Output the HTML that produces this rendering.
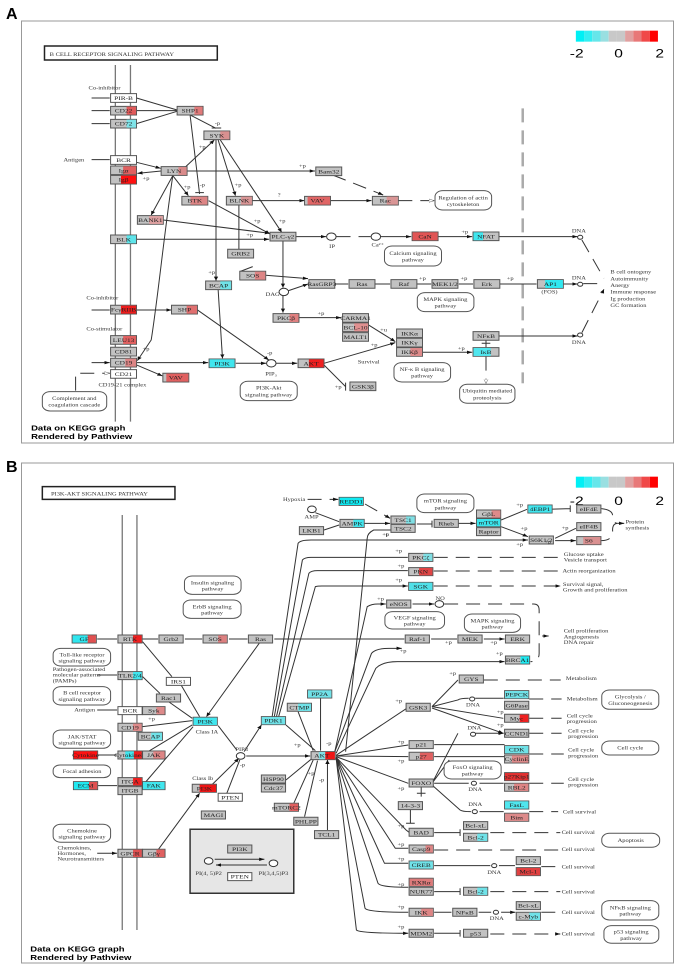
<!DOCTYPE html>
<html><head><meta charset="utf-8">
<style>
html,body{margin:0;padding:0;background:#fff;}
svg{display:block;}
.g{fill:#c2c2c2;stroke:#555;stroke-width:1;vector-effect:non-scaling-stroke}
.w{fill:#fff;stroke:#555;stroke-width:1;vector-effect:non-scaling-stroke}
.t{font-family:"Liberation Serif",serif;font-size:17px;fill:#222;text-anchor:middle}
.l{font-family:"Liberation Serif",serif;font-size:15px;fill:#333}
.lc{font-family:"Liberation Serif",serif;font-size:15px;fill:#333;text-anchor:middle}
.pw{fill:#fff;stroke:#555;stroke-width:1;vector-effect:non-scaling-stroke}
.e{stroke:#333;stroke-width:1;fill:none;vector-effect:non-scaling-stroke}
.d{stroke:#333;stroke-width:1;fill:none;stroke-dasharray:14 8;vector-effect:non-scaling-stroke}
.m{stroke:#777;stroke-width:1.3;fill:none;vector-effect:non-scaling-stroke}
.ci{fill:#fff;stroke:#333;stroke-width:1;vector-effect:non-scaling-stroke}
</style></head>
<body>
<svg width="675" height="966" viewBox="0 0 675 966" xmlns="http://www.w3.org/2000/svg">
<defs>
<marker id="a" markerUnits="userSpaceOnUse" markerWidth="14" markerHeight="14" refX="12" refY="7" orient="auto"><path d="M0,2 L12,7 L0,12 z" fill="#111"/></marker>
<marker id="o" markerUnits="userSpaceOnUse" markerWidth="14" markerHeight="14" refX="12" refY="7" orient="auto"><path d="M0,2 L12,7 L0,12 z" fill="#fff" stroke="#333"/></marker>
</defs>
<text x="6" y="19" font-family="Liberation Sans,sans-serif" font-weight="bold" font-size="16">A</text>
<rect x="21.5" y="21" width="652" height="422" fill="none" stroke="#999" stroke-width="1"/>
<text x="6" y="472" font-family="Liberation Sans,sans-serif" font-weight="bold" font-size="16">B</text>
<rect x="21.5" y="463" width="652" height="500" fill="none" stroke="#999" stroke-width="1"/>

<g transform="scale(0.432,0.3333)">
<!-- title -->
<rect x="103" y="138" width="400" height="42" fill="#fff" stroke="#222" stroke-width="1.5" vector-effect="non-scaling-stroke"/>
<text x="115" y="168" class="l" font-size="20">B CELL RECEPTOR SIGNALING PATHWAY</text>
<!-- colorbar -->
<g>
<rect x="1333" y="92" width="19" height="33" fill="#00f0f5"/><rect x="1352" y="92" width="19" height="33" fill="#33eef2"/><rect x="1371" y="92" width="19" height="33" fill="#66e6ea"/><rect x="1390" y="92" width="19" height="33" fill="#99dfe1"/><rect x="1409" y="92" width="19" height="33" fill="#c8c8c8"/><rect x="1428" y="92" width="19" height="33" fill="#c8c8c8"/><rect x="1447" y="92" width="19" height="33" fill="#e0a0a0"/><rect x="1466" y="92" width="19" height="33" fill="#e87878"/><rect x="1485" y="92" width="19" height="33" fill="#f04848"/><rect x="1504" y="92" width="19" height="33" fill="#ff0000"/>
<text x="1335" y="172" font-family="Liberation Sans,sans-serif" font-size="36" text-anchor="middle">-2</text><text x="1432" y="172" font-family="Liberation Sans,sans-serif" font-size="36" text-anchor="middle">0</text><text x="1527" y="172" font-family="Liberation Sans,sans-serif" font-size="36" text-anchor="middle">2</text>
</g>
<line x1="267" y1="195" x2="267" y2="1265" class="m"/><line x1="302" y1="195" x2="302" y2="1265" class="m"/>
<line x1="1210" y1="325" x2="1210" y2="1150" stroke="#aaa" stroke-width="2.5" stroke-dasharray="14 8" vector-effect="non-scaling-stroke"/>

<!-- edges A -->
<path class="e" marker-end="url(#a)" d="M212,294H254M212,332H254M212,371H254M212,479H254M212,930H254M212,1088H254"/>
<path class="e" d="M316,294L410,330M316,332H410M316,371L410,334"/>
<path class="e" d="M440,345L462,582M452,578H472M440,345L500,385M490,384H512"/>
<path class="e" marker-end="url(#a)" d="M316,487L372,505"/>
<path class="e" marker-end="url(#a)" d="M373,513L318,520"/>
<path class="e" marker-end="url(#a)" d="M433,513H729"/>
<path class="e" marker-end="url(#a)" d="M430,500L496,420"/>
<path class="e" marker-end="url(#a)" d="M400,527L436,587"/>
<path class="e" marker-end="url(#a)" d="M400,527L350,645"/>
<path class="e" marker-end="url(#a)" d="M400,527C380,700 365,900 350,1020 L318,1082"/>
<path class="e" marker-end="url(#a)" d="M505,420L545,587"/>
<path class="e" marker-end="url(#a)" d="M500,420V842"/>
<path class="e" marker-end="url(#a)" d="M510,420L652,697"/>
<path class="e" marker-end="url(#a)" d="M483,602L625,702"/>
<path class="e" marker-end="url(#a)" d="M378,660L625,700"/>
<path class="e" marker-end="url(#a)" d="M583,602H705"/>
<path class="e" marker-end="url(#a)" d="M765,602H860"/>
<path class="d" marker-end="url(#o)" d="M922,602H1005"/>
<path class="d" marker-end="url(#a)" d="M770,525L887,585"/>
<path class="e" d="M553,615V748M585,800L555,815"/>
<path class="e" marker-end="url(#a)" d="M615,826L713,836"/>
<path class="e" marker-end="url(#a)" d="M316,718H623"/>
<path class="e" marker-end="url(#a)" d="M685,710H755"/>
<path class="d" d="M779,710H858"/>
<path class="e" marker-end="url(#a)" d="M882,710H952"/>
<path class="e" marker-end="url(#a)" d="M1014,710H1093"/>
<path class="e" marker-end="url(#a)" d="M1155,710H1337"/>
<path class="e" marker-end="url(#a)" d="M655,722V863"/>
<path class="e" marker-end="url(#a)" d="M655,888V938"/>
<path class="e" marker-end="url(#a)" d="M668,872L713,852"/>
<path class="e" marker-end="url(#a)" d="M775,852H806M868,852H903M965,852H998M1062,852H1095M1157,852H1242M1304,852H1337"/>
<path class="d" marker-end="url(#a)" d="M1347,720L1398,835M1350,851H1398M1347,998L1398,868"/>
<path class="e" marker-end="url(#a)" d="M316,930H397"/>
<path class="e" marker-end="url(#a)" d="M457,930L622,1080"/>
<path class="e" marker-end="url(#a)" d="M505,870L515,1075"/>
<path class="e" marker-end="url(#a)" d="M316,1088H482"/>
<path class="e" marker-end="url(#a)" d="M546,1090H616"/>
<path class="e" marker-end="url(#a)" d="M640,1090H688"/>
<path class="e" marker-end="url(#a)" d="M750,1090L915,1028"/>
<path class="e" d="M750,1095L800,1160M800,1148V1172"/>
<path class="e" marker-end="url(#a)" d="M692,953H790"/>
<path class="e" marker-end="url(#a)" d="M853,975L915,1025"/>
<path class="e" marker-end="url(#a)" d="M978,1057H1093"/>
<path class="e" marker-end="url(#a)" d="M1155,1008H1337"/>
<path class="e" d="M1125,1020V1042M1115,1030H1135"/>
<path class="d" marker-end="url(#o)" d="M1125,1070V1150"/>
<path class="e" marker-end="url(#a)" d="M316,1095L376,1128"/>
<path class="d" marker-end="url(#o)" d="M175,1172V1120H254"/>

<!-- circles -->
<circle cx="767" cy="710" r="11" class="ci"/><circle cx="870" cy="710" r="11" class="ci"/><circle cx="657" cy="876" r="11" class="ci"/><circle cx="628" cy="1090" r="11" class="ci"/>
<circle cx="1343" cy="712" r="6" class="ci"/><circle cx="1343" cy="853" r="6" class="ci"/><circle cx="1343" cy="1005" r="6" class="ci"/>

<!-- nodes A -->
<rect class="w" x="256" y="281" width="60" height="26"/><text class="t" x="286" y="300">PIR-B</text>
<rect class="g" x="256" y="319" width="60" height="26"/><rect x="293" y="320" width="22" height="24" fill="#e05a5a"/><text class="t" x="286" y="338">CD22</text>
<rect class="g" x="256" y="358" width="60" height="26"/><rect x="293" y="359" width="22" height="24" fill="#7fe3e8"/><text class="t" x="286" y="377">CD72</text>
<rect class="g" x="410" y="319" width="60" height="26"/><rect x="450" y="320" width="19" height="24" fill="#e07a7a"/><text class="t" x="440" y="338">SHP1</text>
<rect class="g" x="472" y="393" width="60" height="26"/><rect x="510" y="394" width="21" height="24" fill="#d99090"/><text class="t" x="502" y="412">SYK</text>
<rect class="w" x="256" y="467" width="60" height="26"/><text class="t" x="286" y="486">BCR</text>
<rect class="g" x="256" y="498" width="60" height="26"/><rect x="285" y="499" width="30" height="24" fill="#e06060"/><text class="t" x="286" y="517">Igα</text>
<rect class="g" x="256" y="526" width="60" height="26"/><rect x="280" y="527" width="35" height="24" fill="#ff1010"/><text class="t" x="286" y="545">Igβ</text>
<rect class="g" x="373" y="500" width="60" height="26"/><rect x="413" y="501" width="19" height="24" fill="#d98a8a"/><text class="t" x="403" y="519">LYN</text>
<rect class="g" x="731" y="501" width="60" height="26"/><text class="t" x="761" y="520">Bam32</text>
<rect class="g" x="421" y="589" width="60" height="26"/><rect x="441" y="590" width="39" height="24" fill="#dd8585"/><text class="t" x="451" y="608">BTK</text>
<rect class="g" x="524" y="589" width="60" height="26"/><rect x="558" y="590" width="25" height="24" fill="#d99595"/><text class="t" x="554" y="608">BLNK</text>
<rect class="g" x="705" y="589" width="60" height="26"/><rect x="712" y="590" width="52" height="24" fill="#e06565"/><text class="t" x="735" y="608">VAV</text>
<rect class="g" x="862" y="589" width="60" height="26"/><rect x="895" y="590" width="26" height="24" fill="#d99595"/><text class="t" x="892" y="608">Rac</text>
<rect class="g" x="318" y="647" width="60" height="26"/><rect x="345" y="648" width="32" height="24" fill="#dca0a0"/><text class="t" x="348" y="666">BANK1</text>
<rect class="g" x="256" y="705" width="60" height="26"/><rect x="293" y="706" width="22" height="24" fill="#5ee4ea"/><text class="t" x="286" y="724">BLK</text>
<rect class="g" x="625" y="697" width="60" height="26"/><text class="t" x="655" y="716">PLC-γ2</text>
<rect class="g" x="954" y="696" width="60" height="26"/><rect x="955" y="697" width="58" height="24" fill="#e05555"/><text class="t" x="984" y="715">CaN</text>
<rect class="g" x="1095" y="696" width="60" height="26"/><rect x="1096" y="697" width="22" height="24" fill="#40e6ee"/><text class="t" x="1125" y="715">NFAT</text>
<rect class="g" x="527" y="748" width="60" height="26"/><text class="t" x="557" y="767">GRB2</text>
<rect class="g" x="555" y="814" width="60" height="26"/><rect x="590" y="815" width="24" height="24" fill="#dd8585"/><text class="t" x="585" y="833">SOS</text>
<rect class="g" x="476" y="843" width="60" height="26"/><rect x="510" y="844" width="25" height="24" fill="#70e2e8"/><text class="t" x="506" y="862">BCAP</text>
<rect class="g" x="715" y="839" width="60" height="26"/><text class="t" x="745" y="858" font-size="15">RasGRP3</text>
<rect class="g" x="808" y="839" width="60" height="26"/><text class="t" x="838" y="858">Ras</text>
<rect class="g" x="905" y="839" width="60" height="26"/><text class="t" x="935" y="858">Raf</text>
<rect class="g" x="1000" y="839" width="60" height="26"/><text class="t" x="1030" y="858">MEK1/2</text>
<rect class="g" x="1097" y="839" width="60" height="26"/><text class="t" x="1127" y="858">Erk</text>
<rect class="g" x="1244" y="839" width="60" height="26"/><rect x="1262" y="840" width="41" height="24" fill="#30e8f0"/><text class="t" x="1274" y="858">AP1</text>
<text class="lc" x="1272" y="880">(FOS)</text>
<rect class="g" x="256" y="916" width="60" height="26"/><rect x="280" y="917" width="35" height="24" fill="#ee1c1c"/><text class="t" x="286" y="935" font-size="15">FcγRIIB</text>
<rect class="g" x="397" y="916" width="60" height="26"/><rect x="432" y="917" width="24" height="24" fill="#e07070"/><text class="t" x="427" y="935">SHP</text>
<rect class="g" x="632" y="941" width="60" height="26"/><rect x="670" y="942" width="21" height="24" fill="#e08080"/><text class="t" x="662" y="960">PKCβ</text>
<rect class="g" x="793" y="941" width="60" height="26"/><text class="t" x="823" y="960" font-size="15">CARMA1</text>
<rect class="g" x="793" y="969" width="60" height="26"/><rect x="820" y="970" width="32" height="24" fill="#e09090"/><text class="t" x="823" y="988">BCL-10</text>
<rect class="g" x="793" y="998" width="60" height="26"/><text class="t" x="823" y="1017">MALT1</text>
<rect class="g" x="918" y="987" width="60" height="26"/><text class="t" x="948" y="1006">IKKα</text>
<rect class="g" x="918" y="1015" width="60" height="26"/><text class="t" x="948" y="1034">IKKγ</text>
<rect class="g" x="918" y="1043" width="60" height="26"/><rect x="950" y="1044" width="27" height="24" fill="#dd8a8a"/><text class="t" x="948" y="1062">IKKβ</text>
<rect class="g" x="1095" y="995" width="60" height="26"/><text class="t" x="1125" y="1014">NFκB</text>
<rect class="g" x="1095" y="1043" width="60" height="26"/><rect x="1096" y="1044" width="40" height="24" fill="#50e6ee"/><text class="t" x="1125" y="1062">IκB</text>
<rect class="g" x="256" y="1007" width="60" height="26"/><rect x="285" y="1008" width="30" height="24" fill="#e06060"/><text class="t" x="286" y="1026">LEU13</text>
<rect class="g" x="256" y="1042" width="60" height="26"/><text class="t" x="286" y="1061">CD81</text>
<rect class="g" x="256" y="1075" width="60" height="26"/><rect x="290" y="1076" width="25" height="24" fill="#dd8585"/><text class="t" x="286" y="1094">CD19</text>
<rect class="w" x="256" y="1109" width="60" height="26"/><text class="t" x="286" y="1128">CD21</text>
<rect class="g" x="377" y="1120" width="60" height="26"/><rect x="385" y="1121" width="51" height="24" fill="#e06060"/><text class="t" x="407" y="1139">VAV</text>
<rect class="g" x="484" y="1077" width="60" height="26"/><rect x="485" y="1078" width="58" height="24" fill="#40e6ee"/><text class="t" x="514" y="1096">PI3K</text>
<rect class="g" x="690" y="1077" width="60" height="26"/><rect x="715" y="1078" width="34" height="24" fill="#ee2020"/><text class="t" x="720" y="1096">AKT</text>
<rect class="g" x="810" y="1146" width="60" height="26"/><text class="t" x="840" y="1165">GSK3β</text>

<!-- pathway boxes -->
<rect class="pw" x="1007" y="572" width="131" height="58" rx="18"/><text class="lc" x="1072" y="598">Regulation of actin</text><text class="lc" x="1072" y="618">cytoskeleton</text>
<rect class="pw" x="890" y="738" width="132" height="60" rx="18"/><text class="lc" x="956" y="765">Calcium signaling</text><text class="lc" x="956" y="785">pathway</text>
<rect class="pw" x="966" y="878" width="131" height="57" rx="18"/><text class="lc" x="1031" y="903">MAPK signaling</text><text class="lc" x="1031" y="923">pathway</text>
<rect class="pw" x="912" y="1088" width="131" height="58" rx="18"/><text class="lc" x="977" y="1113">NF-κ B signaling</text><text class="lc" x="977" y="1133">pathway</text>
<rect class="pw" x="556" y="1144" width="132" height="58" rx="18"/><text class="lc" x="622" y="1169">PI3K-Akt</text><text class="lc" x="622" y="1189">signaling pathway</text>
<rect class="pw" x="1064" y="1153" width="128" height="57" rx="18"/><text class="lc" x="1128" y="1178">Ubiquitin mediated</text><text class="lc" x="1128" y="1198">proteolysis</text>
<rect class="pw" x="98" y="1175" width="149" height="58" rx="18"/><text class="lc" x="172" y="1200">Complement and</text><text class="lc" x="172" y="1220">coagulation cascade</text>

<!-- labels A -->
<text class="l" x="205" y="268">Co-inhibitor</text>
<text class="l" x="147" y="485">Antigen</text>
<text class="l" x="200" y="898">Co-inhibitor</text>
<text class="l" x="200" y="991">Co-stimulator</text>
<text class="l" x="228" y="1159">CD19-21 complex</text>
<text class="l" x="828" y="1090">Survival</text>
<text class="l" x="762" y="744">IP</text><text class="l" x="860" y="740">Ca²⁺</text><text class="l" x="615" y="888">DAG</text><text class="l" x="614" y="1126">PIP₃</text>
<text class="lc" x="1340" y="697">DNA</text><text class="lc" x="1340" y="838">DNA</text><text class="lc" x="1340" y="1032">DNA</text>
<text class="l" x="1413" y="821">B cell ontogeny</text><text class="l" x="1413" y="841">Autoimmunity</text><text class="l" x="1413" y="861">Anergy</text><text class="l" x="1413" y="881">Immune response</text><text class="l" x="1413" y="901">Ig production</text><text class="l" x="1413" y="921">GC formation</text>
<text class="l" x="692" y="502">+p</text><text class="l" x="460" y="445">+p</text><text class="l" x="330" y="540">+p</text><text class="l" x="497" y="375">-p</text><text class="l" x="425" y="565">+p</text><text class="l" x="462" y="560">-p</text><text class="l" x="543" y="560">+p</text><text class="l" x="643" y="590">?</text><text class="l" x="587" y="668">+p</text><text class="l" x="645" y="668">+p</text><text class="l" x="570" y="710">+p</text><text class="l" x="1068" y="700">+p</text><text class="l" x="482" y="822">+p</text><text class="l" x="970" y="840">+p</text><text class="l" x="1066" y="840">+p</text><text class="l" x="1173" y="840">+p</text><text class="l" x="735" y="945">+p</text><text class="l" x="880" y="995">+u</text><text class="l" x="858" y="1040">+p</text><text class="l" x="1060" y="1050">+p</text><text class="l" x="330" y="1052">+p</text><text class="l" x="618" y="1064">-p</text><text class="l" x="775" y="1165">+p</text>
<text x="72" y="1292" font-family="Liberation Sans,sans-serif" font-weight="bold" font-size="22">Data on KEGG graph</text>
<text x="72" y="1317" font-family="Liberation Sans,sans-serif" font-weight="bold" font-size="22">Rendered by Pathview</text>
</g>

<!-- PANEL B -->
<g transform="translate(0,480) scale(0.432,0.3333)">
<rect x="98" y="20" width="307" height="38" fill="#fff" stroke="#222" stroke-width="1.5" vector-effect="non-scaling-stroke"/>
<text x="118" y="46" class="l" font-size="19">PI3K-AKT SIGNALING PATHWAY</text>
<g>
<rect x="1333" y="-10" width="19" height="33" fill="#00f0f5"/><rect x="1352" y="-10" width="19" height="33" fill="#33eef2"/><rect x="1371" y="-10" width="19" height="33" fill="#66e6ea"/><rect x="1390" y="-10" width="19" height="33" fill="#99dfe1"/><rect x="1409" y="-10" width="19" height="33" fill="#c8c8c8"/><rect x="1428" y="-10" width="19" height="33" fill="#c8c8c8"/><rect x="1447" y="-10" width="19" height="33" fill="#e0a0a0"/><rect x="1466" y="-10" width="19" height="33" fill="#e87878"/><rect x="1485" y="-10" width="19" height="33" fill="#f04848"/><rect x="1504" y="-10" width="19" height="33" fill="#ff0000"/>
<text x="1335" y="75" font-family="Liberation Sans,sans-serif" font-size="36" text-anchor="middle">-2</text><text x="1432" y="75" font-family="Liberation Sans,sans-serif" font-size="36" text-anchor="middle">0</text><text x="1527" y="75" font-family="Liberation Sans,sans-serif" font-size="36" text-anchor="middle">2</text>
</g>
<line x1="283" y1="105" x2="283" y2="1350" class="m"/><line x1="317" y1="105" x2="317" y2="1350" class="m"/>

<!-- edges B -->
<path class="d" marker-end="url(#a)" d="M712,58H783"/>
<path class="d" marker-end="url(#a)" d="M845,72L903,115"/>
<path class="e" marker-end="url(#a)" d="M730,98L785,125M750,150L785,135M842,130H903"/>
<path class="e" d="M965,132H1000M1000,122V142"/>
<path class="e" marker-end="url(#a)" d="M1060,130H1101"/>
<path class="e" d="M1160,120L1220,88M1260,88L1320,86M1320,76V96"/>
<path class="e" marker-end="url(#a)" d="M1160,140L1222,170"/>
<path class="e" marker-end="url(#a)" d="M1285,175L1333,145M1285,182H1333"/>
<path class="d" d="M1392,86Q1420,90 1418,110Q1418,130 1430,130Q1418,130 1418,150Q1420,182 1392,182"/>
<path class="e" marker-end="url(#a)" d="M1430,130H1445"/>
<path class="e" d="M905,150L865,150Q850,160 850,175L800,815M895,160V170"/>
<path class="e" marker-end="url(#a)" d="M630,710L690,190Q695,180 720,180H1222"/>
<path class="e" marker-end="url(#a)" d="M635,710L700,240Q705,232 720,232H944M640,710L715,280Q720,272 735,272H944M645,710L730,320Q735,318 745,318H944"/>
<path class="d" marker-end="url(#a)" d="M1004,232H1298M1004,273H1296M1004,318H1298"/>
<path class="e" marker-end="url(#a)" d="M775,815L850,380Q860,372 875,372H893"/>
<path class="e" marker-end="url(#a)" d="M955,372H1005"/>
<path class="d" d="M1028,372H1235Q1248,372 1248,390V520Q1248,545 1228,545"/>
<path class="e" marker-end="url(#a)" d="M1255,468H1270"/>
<path class="e" marker-end="url(#a)" d="M225,477H271M330,477H366M428,477H468M530,477H573M635,477H936M998,477H1058M1120,477H1168"/>
<path class="e" marker-end="url(#a)" d="M775,815L860,520Q870,505 900,505H930"/>
<path class="e" marker-end="url(#a)" d="M778,820L870,565Q885,545 920,545H1168"/>
<path class="e" marker-end="url(#a)" d="M330,485L398,590M330,590L370,640M420,617L462,710M390,665L445,715M600,490L478,710"/>
<path class="e" marker-end="url(#a)" d="M225,585H271M225,690H271M225,825H271M225,917H271M225,1120H271"/>
<path class="e" marker-end="url(#a)" d="M330,740L445,722M330,825L445,735M330,917L447,740M360,1120L462,940"/>
<path class="e" marker-end="url(#a)" d="M505,737L548,810M525,940L555,840M490,915L553,835"/>
<path class="e" marker-end="url(#a)" d="M565,815L605,735"/>
<path class="e" marker-end="url(#a)" d="M570,828H718"/>
<path class="e" marker-end="url(#a)" d="M662,735L730,812M690,695L725,812M742,655V812M662,900L720,838M680,970L725,840M705,1010L735,842M758,1050V840"/>
<!-- AKT fan -->
<path class="e" marker-end="url(#a)" d="M778,828L945,795M778,828L945,830M778,830L945,910M778,826L945,682M778,832L940,1050Q945,1055 947,1057M778,832L915,1105H945M778,832L890,1150H945M778,834L875,1210Q880,1222 945,1222M778,834L845,1285Q850,1297 945,1297M778,834L825,1350Q830,1360 945,1360"/>
<path class="e" marker-end="url(#a)" d="M1000,680L1060,600H1060M1000,680L1060,660Q1065,655 1085,655M1000,680L1165,715M1000,684L1165,760"/>
<path class="e" d="M1005,794H1168M1005,830H1168M1000,910L1060,760M1000,910L1040,840"/>
<path class="e" marker-end="url(#a)" d="M1005,910H1085M1110,910H1166M1000,915L1065,990Q1070,995 1090,995M1110,995H1166M1100,655H1166M1100,760H1166"/>
<path class="e" d="M975,922V950M965,940H985M950,990V1030M940,1030H960M1005,1058H1065M1065,1048V1068M1005,1235H1065M1065,1225V1245M1005,1360H1065M1065,1350V1370"/>
<path class="e" marker-end="url(#a)" d="M1005,1157H1135M1155,1157H1192M1005,1297H1045M1108,1297H1137M1160,1297H1193"/>
<path class="d" marker-end="url(#a)" d="M1120,600H1298M1225,657H1300M1225,715H1300M1225,760H1300M1225,822H1305M1225,910H1305M1225,995H1292M1135,1058H1297M1005,1110H1297M1253,1160H1297M1135,1235H1297M1253,1297H1297M1135,1362H1297"/>

<circle cx="722" cy="88" r="10" class="ci"/><circle cx="1017" cy="372" r="10" class="ci"/><circle cx="557" cy="828" r="10" class="ci"/>
<circle cx="1093" cy="657" r="6" class="ci"/><circle cx="1095" cy="763" r="6" class="ci"/><circle cx="1097" cy="910" r="6" class="ci"/><circle cx="1099" cy="995" r="6" class="ci"/><circle cx="1144" cy="1157" r="6" class="ci"/><circle cx="1148" cy="1297" r="6" class="ci"/>

<!-- nodes B -->
<rect class="g" x="785" y="52" width="56" height="24"/><rect x="786" y="53" width="54" height="22" fill="#10eaf2"/><text class="t" x="813" y="70">REDD1</text>
<rect class="g" x="787" y="118" width="56" height="24"/><rect x="818" y="119" width="24" height="22" fill="#40e6ee"/><text class="t" x="815" y="136">AMPK</text>
<rect class="g" x="693" y="140" width="56" height="24"/><text class="t" x="721" y="158">LKB1</text>
<rect class="g" x="905" y="108" width="56" height="24"/><rect x="940" y="109" width="20" height="22" fill="#80e0e5"/><text class="t" x="933" y="126">TSC1</text>
<rect class="g" x="905" y="133" width="56" height="24"/><text class="t" x="933" y="151">TSC2</text>
<rect class="g" x="1005" y="118" width="56" height="24"/><text class="t" x="1033" y="136">Rheb</text>
<rect class="g" x="1103" y="90" width="56" height="24"/><rect x="1138" y="91" width="20" height="22" fill="#dd8a8a"/><text class="t" x="1131" y="108">GβL</text>
<rect class="g" x="1103" y="116" width="56" height="24"/><rect x="1104" y="117" width="54" height="22" fill="#3ae6ee"/><text class="t" x="1131" y="134">mTOR</text>
<rect class="g" x="1103" y="143" width="56" height="24"/><text class="t" x="1131" y="161">Raptor</text>
<rect class="g" x="1222" y="75" width="56" height="24"/><rect x="1223" y="76" width="54" height="22" fill="#40e6ee"/><text class="t" x="1250" y="93">4EBP1</text>
<rect class="g" x="1335" y="75" width="56" height="24"/><text class="t" x="1363" y="93">eIF4E</text>
<rect class="g" x="1335" y="128" width="56" height="24"/><text class="t" x="1363" y="146">eIF4B</text>
<rect class="g" x="1225" y="168" width="56" height="24"/><text class="t" x="1253" y="186">S6K1/2</text>
<rect class="g" x="1335" y="170" width="56" height="24"/><rect x="1350" y="171" width="40" height="22" fill="#d99090"/><text class="t" x="1363" y="188">S6</text>
<rect class="g" x="946" y="220" width="56" height="24"/><rect x="980" y="221" width="21" height="22" fill="#80e0e5"/><text class="t" x="974" y="238">PKCζ</text>
<rect class="g" x="946" y="263" width="56" height="24"/><rect x="970" y="264" width="31" height="22" fill="#e04545"/><text class="t" x="974" y="281">PKN</text>
<rect class="g" x="946" y="307" width="56" height="24"/><rect x="947" y="308" width="54" height="22" fill="#50e0e8"/><text class="t" x="974" y="325">SGK</text>
<rect class="g" x="895" y="360" width="56" height="24"/><text class="t" x="923" y="378">eNOS</text>
<rect class="g" x="938" y="465" width="56" height="24"/><text class="t" x="966" y="483">Raf-1</text>
<rect class="g" x="1060" y="465" width="56" height="24"/><text class="t" x="1088" y="483">MEK</text>
<rect class="g" x="1170" y="465" width="56" height="24"/><text class="t" x="1198" y="483">ERK</text>
<rect class="g" x="1170" y="528" width="56" height="24"/><rect x="1205" y="529" width="20" height="22" fill="#20e8f0"/><text class="t" x="1198" y="546">BRCA1</text>
<rect class="g" x="167" y="465" width="56" height="24"/><rect x="168" y="466" width="35" height="22" fill="#30e6ee"/><rect x="203" y="466" width="19" height="22" fill="#e05050"/><text class="t" x="195" y="483">GF</text>
<rect class="g" x="273" y="465" width="56" height="24"/><rect x="308" y="466" width="20" height="22" fill="#ee2020"/><text class="t" x="301" y="483">RTK</text>
<rect class="g" x="368" y="465" width="56" height="24"/><text class="t" x="396" y="483">Grb2</text>
<rect class="g" x="470" y="465" width="56" height="24"/><rect x="505" y="466" width="20" height="22" fill="#dd8080"/><text class="t" x="498" y="483">SOS</text>
<rect class="g" x="575" y="465" width="56" height="24"/><text class="t" x="603" y="483">Ras</text>
<rect class="g" x="273" y="575" width="56" height="24"/><rect x="308" y="576" width="20" height="22" fill="#40e6ee"/><text class="t" x="301" y="593">TLR2/4</text>
<rect class="w" x="385" y="592" width="56" height="24"/><text class="t" x="413" y="610">IRS1</text>
<rect class="g" x="362" y="642" width="56" height="24"/><text class="t" x="390" y="660">Rac1</text>
<rect class="w" x="273" y="680" width="56" height="24"/><text class="t" x="301" y="698">BCR</text>
<rect class="g" x="330" y="680" width="52" height="24"/><rect x="362" y="681" width="19" height="22" fill="#dd8a8a"/><text class="t" x="356" y="698">Syk</text>
<rect class="g" x="273" y="730" width="56" height="24"/><rect x="308" y="731" width="20" height="22" fill="#dd8a8a"/><text class="t" x="301" y="748">CD19</text>
<rect class="g" x="320" y="757" width="56" height="24"/><rect x="350" y="758" width="25" height="22" fill="#70e2e8"/><text class="t" x="348" y="775">BCAP</text>
<rect class="g" x="447" y="712" width="56" height="24"/><rect x="448" y="713" width="54" height="22" fill="#40e6ee"/><text class="t" x="475" y="730">PI3K</text>
<rect class="g" x="170" y="813" width="56" height="24"/><rect x="171" y="814" width="54" height="22" fill="#ff1010"/><text class="t" x="198" y="831" font-size="14">Cytokine</text>
<rect class="g" x="273" y="813" width="56" height="24"/><rect x="290" y="814" width="20" height="22" fill="#40e6ee"/><rect x="310" y="814" width="18" height="22" fill="#ee2020"/><text class="t" x="301" y="831" font-size="14">CytokineR</text>
<rect class="g" x="330" y="813" width="52" height="24"/><rect x="355" y="814" width="26" height="22" fill="#dd8585"/><text class="t" x="356" y="831">JAK</text>
<rect class="g" x="170" y="905" width="56" height="24"/><rect x="171" y="906" width="35" height="22" fill="#20e8f0"/><rect x="206" y="906" width="19" height="22" fill="#e05050"/><text class="t" x="198" y="923">ECM</text>
<rect class="g" x="273" y="893" width="56" height="24"/><rect x="308" y="894" width="20" height="22" fill="#ee2020"/><text class="t" x="301" y="911">ITGA</text>
<rect class="g" x="273" y="920" width="56" height="24"/><text class="t" x="301" y="938">ITGB</text>
<rect class="g" x="330" y="905" width="52" height="24"/><rect x="331" y="906" width="50" height="22" fill="#40e6ee"/><text class="t" x="356" y="923">FAK</text>
<rect class="g" x="445" y="913" width="56" height="24"/><rect x="462" y="914" width="38" height="22" fill="#ee1515"/><text class="t" x="473" y="931">PI3K</text>
<rect class="w" x="505" y="940" width="56" height="24"/><text class="t" x="533" y="958">PTEN</text>
<rect class="g" x="466" y="993" width="56" height="24"/><text class="t" x="494" y="1011">MAGI</text>
<rect class="g" x="273" y="1108" width="56" height="24"/><rect x="308" y="1109" width="20" height="22" fill="#e05050"/><text class="t" x="301" y="1126">GPCR</text>
<rect class="g" x="330" y="1108" width="52" height="24"/><rect x="362" y="1109" width="19" height="22" fill="#e06060"/><text class="t" x="356" y="1126">Gβγ</text>
<rect class="g" x="605" y="710" width="56" height="24"/><rect x="606" y="711" width="54" height="22" fill="#70e2e8"/><text class="t" x="633" y="728">PDK1</text>
<rect class="g" x="712" y="630" width="56" height="24"/><rect x="713" y="631" width="54" height="22" fill="#70e2e8"/><text class="t" x="740" y="648">PP2A</text>
<rect class="g" x="665" y="670" width="56" height="24"/><rect x="690" y="671" width="30" height="22" fill="#70e2e8"/><text class="t" x="693" y="688">CTMP</text>
<rect class="g" x="720" y="815" width="56" height="24"/><rect x="738" y="816" width="15" height="22" fill="#80e0e5"/><rect x="753" y="816" width="22" height="22" fill="#ee1515"/><text class="t" x="745" y="833">AKT</text>
<rect class="g" x="605" y="885" width="56" height="24"/><text class="t" x="633" y="903">HSP90</text>
<rect class="g" x="605" y="912" width="56" height="24"/><text class="t" x="633" y="930">Cdc37</text>
<rect class="g" x="635" y="970" width="56" height="24"/><rect x="670" y="971" width="20" height="22" fill="#e06060"/><text class="t" x="663" y="988">mTORC2</text>
<rect class="g" x="680" y="1012" width="56" height="24"/><text class="t" x="708" y="1030">PHLPP</text>
<rect class="g" x="728" y="1052" width="56" height="24"/><text class="t" x="756" y="1070">TCL1</text>
<rect class="g" x="1063" y="585" width="56" height="24"/><text class="t" x="1091" y="603">GYS</text>
<rect class="g" x="940" y="670" width="56" height="24"/><text class="t" x="968" y="688">GSK3</text>
<rect class="g" x="1168" y="632" width="56" height="24"/><rect x="1169" y="633" width="54" height="22" fill="#70e2e8"/><text class="t" x="1196" y="650">PEPCK</text>
<rect class="g" x="1168" y="664" width="56" height="24"/><text class="t" x="1196" y="682">G6Pase</text>
<rect class="g" x="1168" y="703" width="56" height="24"/><rect x="1203" y="704" width="20" height="22" fill="#ee2020"/><text class="t" x="1196" y="721">Myc</text>
<rect class="g" x="1168" y="748" width="56" height="24"/><text class="t" x="1196" y="766">CCND1</text>
<rect class="g" x="947" y="782" width="56" height="24"/><text class="t" x="975" y="800">p21</text>
<rect class="g" x="947" y="817" width="56" height="24"/><rect x="972" y="818" width="30" height="22" fill="#e06060"/><text class="t" x="975" y="835">p27</text>
<rect class="g" x="1168" y="797" width="56" height="24"/><rect x="1169" y="798" width="54" height="22" fill="#70e2e8"/><text class="t" x="1196" y="815">CDK</text>
<rect class="g" x="1168" y="825" width="56" height="24"/><rect x="1185" y="826" width="38" height="22" fill="#dd8a8a"/><text class="t" x="1196" y="843">CyclinE</text>
<rect class="g" x="947" y="897" width="56" height="24"/><text class="t" x="975" y="915">FOXO</text>
<rect class="g" x="1168" y="878" width="56" height="24"/><rect x="1169" y="879" width="54" height="22" fill="#e03030"/><text class="t" x="1196" y="896" font-size="14">p27Kip1</text>
<rect class="g" x="1168" y="910" width="56" height="24"/><rect x="1190" y="911" width="33" height="22" fill="#dd8585"/><text class="t" x="1196" y="928">RBL2</text>
<rect class="g" x="922" y="965" width="56" height="24"/><text class="t" x="950" y="983">14-3-3</text>
<rect class="g" x="1168" y="963" width="56" height="24"/><rect x="1169" y="964" width="54" height="22" fill="#50e6ee"/><text class="t" x="1196" y="981">FasL</text>
<rect class="g" x="1168" y="1000" width="56" height="24"/><rect x="1169" y="1001" width="54" height="22" fill="#dd8a8a"/><text class="t" x="1196" y="1018">Bim</text>
<rect class="g" x="947" y="1045" width="56" height="24"/><text class="t" x="975" y="1063">BAD</text>
<rect class="g" x="1073" y="1025" width="56" height="24"/><text class="t" x="1101" y="1043">Bcl-xL</text>
<rect class="g" x="1073" y="1060" width="56" height="24"/><rect x="1105" y="1061" width="23" height="22" fill="#70e2e8"/><text class="t" x="1101" y="1078">Bcl-2</text>
<rect class="g" x="947" y="1095" width="56" height="24"/><rect x="985" y="1096" width="17" height="22" fill="#dd8585"/><text class="t" x="975" y="1113">Casp9</text>
<rect class="g" x="947" y="1143" width="56" height="24"/><rect x="948" y="1144" width="54" height="22" fill="#70e2e8"/><text class="t" x="975" y="1161">CREB</text>
<rect class="g" x="1195" y="1130" width="56" height="24"/><text class="t" x="1223" y="1148">Bcl-2</text>
<rect class="g" x="1195" y="1163" width="56" height="24"/><rect x="1196" y="1164" width="54" height="22" fill="#e04040"/><text class="t" x="1223" y="1181">Mcl-1</text>
<rect class="g" x="947" y="1195" width="56" height="24"/><rect x="948" y="1196" width="54" height="22" fill="#dd7a7a"/><text class="t" x="975" y="1213">RXRα</text>
<rect class="g" x="947" y="1222" width="56" height="24"/><text class="t" x="975" y="1240">NUR77</text>
<rect class="g" x="1073" y="1222" width="56" height="24"/><rect x="1105" y="1223" width="23" height="22" fill="#70e2e8"/><text class="t" x="1101" y="1240">Bcl-2</text>
<rect class="g" x="947" y="1285" width="56" height="24"/><rect x="975" y="1286" width="27" height="22" fill="#dd8585"/><text class="t" x="975" y="1303">IKK</text>
<rect class="g" x="1048" y="1285" width="56" height="24"/><text class="t" x="1076" y="1303">NFκB</text>
<rect class="g" x="1195" y="1265" width="56" height="24"/><text class="t" x="1223" y="1283">Bcl-xL</text>
<rect class="g" x="1195" y="1297" width="56" height="24"/><rect x="1225" y="1298" width="25" height="22" fill="#70e2e8"/><text class="t" x="1223" y="1315">c-Myb</text>
<rect class="g" x="947" y="1348" width="56" height="24"/><text class="t" x="975" y="1366">MDM2</text>
<rect class="g" x="1073" y="1348" width="56" height="24"/><text class="t" x="1101" y="1366">p53</text>

<!-- gray box -->
<rect x="440" y="1048" width="240" height="192" fill="#e6e6e6" stroke="#333" stroke-width="1.5" vector-effect="non-scaling-stroke"/>
<rect class="g" x="527" y="1095" width="56" height="24"/><text class="t" x="555" y="1113">PI3K</text>
<rect class="w" x="527" y="1178" width="56" height="24"/><text class="t" x="555" y="1196">PTEN</text>
<circle cx="483" cy="1143" r="10" class="ci"/><circle cx="633" cy="1150" r="10" class="ci"/>
<path class="e" marker-end="url(#a)" d="M497,1138H612"/><path class="e" marker-end="url(#a)" d="M618,1155H500"/>
<text class="lc" x="483" y="1185">PI(4, 5)P2</text><text class="lc" x="633" y="1185">PI(3,4,5)P3</text>

<!-- pathway boxes B -->
<rect class="pw" x="965" y="42" width="132" height="56" rx="18"/><text class="lc" x="1031" y="68">mTOR signaling</text><text class="lc" x="1031" y="88">pathway</text>
<rect class="pw" x="427" y="288" width="131" height="55" rx="18"/><text class="lc" x="492" y="313">Insulin signaling</text><text class="lc" x="492" y="332">pathway</text>
<rect class="pw" x="424" y="360" width="134" height="55" rx="18"/><text class="lc" x="491" y="385">ErbB signaling</text><text class="lc" x="491" y="404">pathway</text>
<rect class="pw" x="891" y="395" width="138" height="52" rx="18"/><text class="lc" x="960" y="418">VEGF signaling</text><text class="lc" x="960" y="437">pathway</text>
<rect class="pw" x="1075" y="402" width="130" height="55" rx="18"/><text class="lc" x="1140" y="427">MAPK signaling</text><text class="lc" x="1140" y="446">pathway</text>
<rect class="pw" x="123" y="505" width="133" height="53" rx="18"/><text class="lc" x="190" y="529">Toll-like receptor</text><text class="lc" x="190" y="548">signaling pathway</text>
<rect class="pw" x="123" y="620" width="133" height="55" rx="18"/><text class="lc" x="190" y="644">B cell receptor</text><text class="lc" x="190" y="663">signaling pathway</text>
<rect class="pw" x="123" y="750" width="133" height="55" rx="18"/><text class="lc" x="190" y="775">JAK/STAT</text><text class="lc" x="190" y="794">signaling pathway</text>
<rect class="pw" x="123" y="855" width="133" height="38" rx="16"/><text class="lc" x="190" y="879">Focal adhesion</text>
<rect class="pw" x="123" y="1033" width="133" height="54" rx="18"/><text class="lc" x="190" y="1057">Chemokine</text><text class="lc" x="190" y="1076">signaling pathway</text>
<rect class="pw" x="1028" y="843" width="132" height="54" rx="18"/><text class="lc" x="1094" y="867">FoxO signaling</text><text class="lc" x="1094" y="886">pathway</text>
<rect class="pw" x="1393" y="630" width="132" height="58" rx="18"/><text class="lc" x="1459" y="656">Glycolysis /</text><text class="lc" x="1459" y="675">Gluconeogenesis</text>
<rect class="pw" x="1393" y="783" width="132" height="42" rx="18"/><text class="lc" x="1459" y="809">Cell cycle</text>
<rect class="pw" x="1393" y="1060" width="134" height="42" rx="18"/><text class="lc" x="1460" y="1086">Apoptosis</text>
<rect class="pw" x="1393" y="1262" width="132" height="58" rx="18"/><text class="lc" x="1459" y="1288">NFκB signaling</text><text class="lc" x="1459" y="1307">pathway</text>
<rect class="pw" x="1398" y="1337" width="127" height="53" rx="18"/><text class="lc" x="1461" y="1361">p53 signaling</text><text class="lc" x="1461" y="1380">pathway</text>

<!-- labels B -->
<text class="l" x="655" y="63">Hypoxia</text><text class="l" x="705" y="115">AMP</text>
<text class="l" x="1448" y="130">Protein</text><text class="l" x="1448" y="148">synthesis</text>
<text class="l" x="1305" y="228">Glucose uptake</text><text class="l" x="1305" y="245">Vesicle transport</text>
<text class="l" x="1302" y="277">Actin reorganization</text>
<text class="l" x="1303" y="318">Survival signal,</text><text class="l" x="1303" y="335">Growth and proliferation</text>
<text class="l" x="1305" y="458">Cell proliferation</text><text class="l" x="1305" y="475">Angiogenesis</text><text class="l" x="1305" y="492">DNA repair</text>
<text class="l" x="1310" y="600">Metabolism</text><text class="l" x="1312" y="662">Metabolism</text>
<text class="l" x="1312" y="712">Cell cycle</text><text class="l" x="1312" y="729">progression</text>
<text class="l" x="1315" y="757">Cell cycle</text><text class="l" x="1315" y="774">progression</text>
<text class="l" x="1315" y="815">Cell cycle</text><text class="l" x="1315" y="832">progression</text>
<text class="l" x="1315" y="903">Cell cycle</text><text class="l" x="1315" y="920">progression</text>
<text class="l" x="1303" y="1000">Cell survival</text><text class="l" x="1300" y="1062">Cell survival</text><text class="l" x="1300" y="1113">Cell survival</text><text class="l" x="1300" y="1165">Cell survival</text><text class="l" x="1300" y="1240">Cell survival</text><text class="l" x="1300" y="1302">Cell survival</text><text class="l" x="1300" y="1367">Cell survival</text>
<text class="l" x="122" y="573">Pathogen-associated</text><text class="l" x="122" y="590">molecular patterns</text><text class="l" x="122" y="607">(PAMPs)</text>
<text class="l" x="172" y="695">Antigen</text>
<text class="l" x="133" y="1108">Chemokines,</text><text class="l" x="133" y="1125">Hormones,</text><text class="l" x="133" y="1142">Neurotransmitters</text>
<text class="l" x="453" y="760">Class IA</text><text class="l" x="445" y="900">Class Ib</text>
<text class="l" x="545" y="813">PIP3</text><text class="l" x="1008" y="360">NO</text>
<text class="lc" x="1095" y="680">DNA</text><text class="lc" x="1098" y="748">DNA</text><text class="lc" x="1100" y="933">DNA</text><text class="lc" x="1100" y="978">DNA</text><text class="lc" x="1144" y="1182">DNA</text><text class="lc" x="1150" y="1320">DNA</text>
<text class="l" x="1195" y="80">+p</text><text class="l" x="1300" y="148">+p</text><text class="l" x="1260" y="190">+p</text><text class="l" x="1195" y="198">+p</text><text class="l" x="1205" y="150">+p</text><text class="l" x="885" y="168">+p</text>
<text class="l" x="915" y="217">+p</text><text class="l" x="920" y="262">+p</text><text class="l" x="915" y="305">+p</text><text class="l" x="873" y="362">+p</text><text class="l" x="925" y="517">+p</text><text class="l" x="1030" y="492">+p</text><text class="l" x="1135" y="492">+p</text><text class="l" x="1148" y="525">+p</text>
<text class="l" x="1040" y="585">+p</text><text class="l" x="915" y="667">+p</text><text class="l" x="1150" y="700">+p</text><text class="l" x="1150" y="740">+p</text><text class="l" x="920" y="790">+p</text><text class="l" x="920" y="848">+p</text><text class="l" x="920" y="930">+p</text><text class="l" x="920" y="1042">+p</text><text class="l" x="920" y="1098">+p</text><text class="l" x="920" y="1142">+p</text><text class="l" x="920" y="1218">+p</text><text class="l" x="920" y="1285">+p</text><text class="l" x="920" y="1345">+p</text>
<text class="l" x="680" y="800">+p</text><text class="l" x="755" y="795">-p</text><text class="l" x="712" y="885">+p</text><text class="l" x="738" y="905">-p</text><text class="l" x="555" y="860">-p</text><text class="l" x="343" y="722">+p</text>
<text x="70" y="1415" font-family="Liberation Sans,sans-serif" font-weight="bold" font-size="22">Data on KEGG graph</text>
<text x="70" y="1440" font-family="Liberation Sans,sans-serif" font-weight="bold" font-size="22">Rendered by Pathview</text>
</g>
</svg>
</body></html>
